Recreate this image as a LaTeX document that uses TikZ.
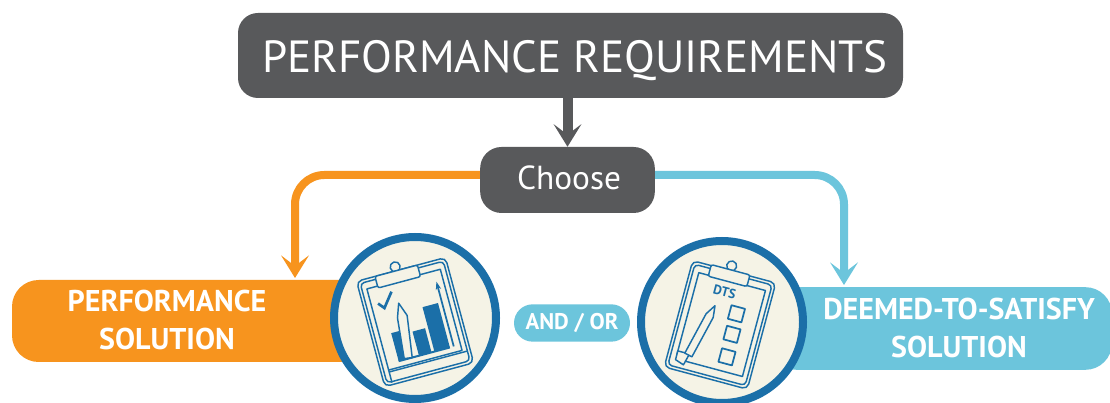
\documentclass[tikz,border=0pt]{standalone}
\usepackage{fontspec}
\setmainfont{PT Sans}
\usetikzlibrary{arrows.meta}
\definecolor{darkbox}{HTML}{58595B}
\definecolor{orangebox}{HTML}{F7941E}
\definecolor{bluebox}{HTML}{6CC5DC}
\definecolor{ringblue}{HTML}{1B6FA8}
\definecolor{cream}{HTML}{F5F3E6}
\tikzset{
 whitetext/.style={text=white,inner sep=0pt,align=center},
 ring/.style={circle,draw=ringblue,line width=6pt,fill=cream,minimum size=121.5pt,inner sep=0pt},
 linkline/.style={line width=6pt,rounded corners=22pt},
 tipped/.style={-{Stealth[length=17pt,width=21pt,inset=8pt,line width=0pt]}},
 ink/.style={draw=ringblue,line width=1.1pt,line join=round},
 inkfill/.style={fill=ringblue}
}
\begin{document}
\begin{tikzpicture}[x=0.75pt,y=0.75pt]
\useasboundingbox (0,0) rectangle (1110,403);
\clip (0,0) rectangle (1110,403);
\fill[white] (0,0) rectangle (1110,403);
% solution boxes
\node[fill=orangebox,rounded corners=20pt,minimum width=276pt,minimum height=61.5pt,inner sep=0pt] (perf) at (196,82) {};
\node[fill=bluebox,rounded corners=20pt,minimum width=256.5pt,minimum height=62pt,inner sep=0pt] (dts) at (941,74.5) {};
% main boxes
\node[fill=darkbox,rounded corners=15pt,minimum width=498.75pt,minimum height=63.75pt,inner sep=0pt] (req) at (570.5,347.5) {};
\node[fill=darkbox,rounded corners=16pt,minimum width=131pt,minimum height=49.5pt,inner sep=0pt] (choose) at (567.5,223) {};
\node[whitetext,font=\fontsize{33.8pt}{40pt}\selectfont] at (575,342.5) {PERFORMANCE REQUIREMENTS};
\node[whitetext,font=\fontsize{25pt}{28pt}\selectfont] at (569,225) {Choose};
% connectors
\coordinate (otip) at (295,125);
\coordinate (btip) at (844,118);
\draw[darkbox,line width=7.5pt,tipped] (req.south -| choose.north) -- (choose.north);
\draw[orangebox,linkline,tipped] ([yshift=3.75pt]choose.west) -| (otip);
\draw[bluebox,linkline,tipped] ([yshift=3.75pt]choose.east) -| (btip);
% and / or
\node[fill=bluebox,rounded corners=14pt,minimum width=87pt,minimum height=28pt,inner sep=0pt,whitetext,font=\bfseries\fontsize{17pt}{18pt}\selectfont] (andor) at (572,80) {AND / OR};
% labels
\node[whitetext,font=\bfseries\fontsize{22.5pt}{28.5pt}\selectfont] at (167,83) {PERFORMANCE\\SOLUTION};
\node[whitetext,font=\bfseries\fontsize{22.5pt}{28.5pt}\selectfont] at (959,75) {DEEMED-TO-SATISFY\\SOLUTION};
% rings
\node[ring] (ringa) at (415,85) {};
\node[ring] (ringb) at (722,81) {};
% left clipboard
\begin{scope}[shift={(ringa.center)},yshift=-2.7pt,rotate=15]
 \draw[ink,rounded corners=4pt] (-46,-55) rectangle (46,54);
 \draw[ink,rounded corners=3pt] (-43,-52) rectangle (43,51);
 \draw[ink] (-38,-40) rectangle (38,44);
 \draw[ink,rounded corners=3pt,fill=cream] (-38,-40) -- (-38,-53) (-38,-42) -- (43,-42);
 \draw[ink,fill=cream] (-5,58) circle (5);
 \draw[ink,fill=cream,rounded corners=1.5pt] (-27,42) rectangle (17,54);
 \fill[inkfill] (11,-34) rectangle (27,12);
 \fill[inkfill] (-5,-34) rectangle (8,-9);
 \fill[inkfill] (-26,-34) rectangle (-17,-5);
 \draw[ink,line width=1.5pt] (-26,-34) -- (27,-34);
 \draw[ink,fill=cream] (-11,22) -- (-6,8) -- (-12,-34) -- (-20,-33) -- (-16,8) -- cycle;
 \draw[ringblue,line width=2pt] (-31,27) -- (-26,21) -- (-15,35);
 \draw[ringblue,line width=1.3pt,-{Stealth[length=6pt,width=4pt]}] (31,-34) -- (31,33);
\end{scope}
% right clipboard
\begin{scope}[shift={(ringb.center)},xshift=-1.5pt,yshift=-2.2pt,rotate=-15]
 \draw[ink,rounded corners=4pt] (-43,-55) rectangle (43,55);
 \draw[ink,rounded corners=3pt] (-40,-52) rectangle (40,52);
 \draw[ink] (-34,-40) -- (-34,45) -- (35,45) -- (35,-44) -- (-28,-44);
 \draw[ink,fill=cream] (-34,-36) -- (-22,-36) -- (-25,-48) -- (-34,-45) -- cycle;
 \draw[ink,fill=cream] (-4,60) circle (5);
 \draw[ink,fill=cream,rounded corners=1.5pt] (-24,44) rectangle (16,56);
 \node[text=ringblue,inner sep=0pt,rotate=-15,font=\bfseries\fontsize{10pt}{10pt}\selectfont] at (-4,33) {DTS};
 \draw[ink,fill=cream] (-9.8,17.3) -- (-8.5,5.4) -- (-18.9,-38.1) -- (-26.7,-36.3) -- (-16.3,7.2) -- cycle;
 \draw[ink,line width=1.3pt] (6,8) rectangle (20,22);
 \draw[ink,line width=1.3pt] (7,-13) rectangle (21,1);
 \draw[ink,line width=1.3pt] (8,-36) rectangle (22,-22);
\end{scope}
\end{tikzpicture}
\end{document}
